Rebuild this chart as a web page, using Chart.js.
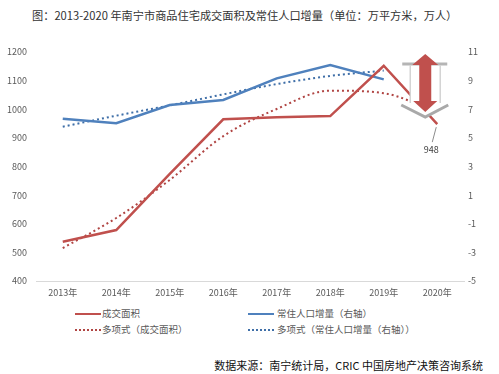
<!DOCTYPE html>
<html>
<head>
<meta charset="utf-8">
<script src="https://cdn.jsdelivr.net/npm/chart.js@4/dist/chart.umd.min.js"></script>
<style>
  html, body { margin: 0; padding: 0; background: #fff; }
  body { width: 499px; height: 374px; position: relative; overflow: hidden;
         font-family: "Noto Sans CJK SC", "Noto Sans", sans-serif; }
  #wrap { position: absolute; left: 0; top: 0; width: 499px; height: 300px; }
  .txt { position: absolute; white-space: nowrap; line-height: 1; }
  #title { left: 32px; top: 10px; font-size: 11.2px; color: #333; }
  #source { right: 16px; top: 360px; font-size: 11px; color: #111; }
  .lg { position: absolute; font-size: 9.5px; color: #595959; line-height: 1; white-space: nowrap; }
  .sw { position: absolute; width: 26px; height: 0; }
</style>
</head>
<body>
<div id="title" class="txt">图：2013-2020 年南宁市商品住宅成交面积及常住人口增量（单位：万平方米，万人）</div>
<div id="wrap"><canvas id="c"></canvas></div>

<div class="sw" style="left:75px;top:313px;border-top:2.5px solid #C0504D;"></div>
<div class="lg" style="left:102px;top:309px;">成交面积</div>
<div class="sw" style="left:248px;top:313px;border-top:2.5px solid #4F81BD;"></div>
<div class="lg" style="left:277px;top:309px;">常住人口增量（右轴）</div>
<div class="sw" style="left:75px;top:329px;border-top:2px dotted #B04543;"></div>
<div class="lg" style="left:102px;top:325px;">多项式（成交面积）</div>
<div class="sw" style="left:248px;top:329px;border-top:2px dotted #3F6FA8;"></div>
<div class="lg" style="left:277px;top:325px;">多项式（常住人口增量（右轴））</div>

<div id="source" class="txt">数据来源：南宁统计局，CRIC 中国房地产决策咨询系统</div>

<script>
// data
var years = ["2013年", "2014年", "2015年", "2016年", "2017年", "2018年", "2019年", "2020年"];
var area = [537, 578, 774, 965, 972, 976, 1152, 948];           // 成交面积 (万平方米)
var popIncrease = [6.34, 6.02, 7.3, 7.65, 9.16, 10.09, 9.09, null]; // 常住人口增量 (万人)
var areaTrend = [515, 620, 753, 906, 1001, 1065, 1056, 990];      // 多项式（成交面积）
var popTrend = [5.78, 6.55, 7.27, 8.04, 8.76, 9.33, 9.7, null];   // 多项式（常住人口增量）
var lastLabel = "948";

var tickFont = { family: "'Noto Sans CJK SC', sans-serif", size: 9 };

// --- arrow + data label drawn on top ---
var extras = {
  id: "extras",
  afterDatasetsDraw: function (chart) {
    var ctx = chart.ctx;
    var xs = chart.scales.x, ys = chart.scales.y;
    var px = xs.getPixelForValue(7), py = ys.getPixelForValue(area[7]);
    var cx = px - 12;

    ctx.save();
    // white backing with grey edges (3d look)
    ctx.fillStyle = "#fff";
    ctx.beginPath();
    ctx.moveTo(cx - 23, 63); ctx.lineTo(cx + 22, 63);
    ctx.lineTo(cx + 15, 63); ctx.lineTo(cx + 15, 104);
    ctx.lineTo(cx + 23, 104); ctx.lineTo(cx, 117); ctx.lineTo(cx - 24, 104);
    ctx.lineTo(cx - 15, 104); ctx.lineTo(cx - 15, 63);
    ctx.closePath();
    ctx.fill();
    ctx.strokeStyle = "#b5b5b5";
    ctx.lineWidth = 3;
    ctx.beginPath();
    ctx.moveTo(cx - 23, 64); ctx.lineTo(cx + 22, 64);
    ctx.stroke();
    ctx.lineWidth = 1.5;
    ctx.strokeStyle = "#d4d4d4";
    ctx.beginPath();
    ctx.moveTo(cx - 15, 65); ctx.lineTo(cx - 15, 103);
    ctx.moveTo(cx + 15, 65); ctx.lineTo(cx + 15, 103);
    ctx.stroke();
    ctx.strokeStyle = "#a9a9a9";
    ctx.lineWidth = 3;
    ctx.beginPath();
    ctx.moveTo(cx - 24, 105); ctx.lineTo(cx, 117); ctx.lineTo(cx + 23, 105);
    ctx.stroke();

    // red double arrow
    ctx.fillStyle = "#C0504D";
    ctx.beginPath();
    ctx.moveTo(cx, 54);
    ctx.lineTo(cx + 13, 65);
    ctx.lineTo(cx + 6, 65);
    ctx.lineTo(cx + 6, 101);
    ctx.lineTo(cx + 12, 101);
    ctx.lineTo(cx, 112);
    ctx.lineTo(cx - 12, 101);
    ctx.lineTo(cx - 6, 101);
    ctx.lineTo(cx - 6, 65);
    ctx.lineTo(cx - 13, 65);
    ctx.closePath();
    ctx.fill();

    // 948 label with leader line
    ctx.strokeStyle = "#8c8c8c";
    ctx.lineWidth = 1;
    ctx.beginPath();
    ctx.moveTo(px - 1, py + 3);
    ctx.lineTo(px - 5, py + 18);
    ctx.stroke();
    ctx.fillStyle = "#404040";
    ctx.font = "9px 'Noto Sans CJK SC', sans-serif";
    ctx.textAlign = "center";
    ctx.textBaseline = "middle";
    ctx.fillText(lastLabel, px - 6, py + 25);
    ctx.restore();
  }
};

function plainTick(v) { return String(v); }

new Chart(document.getElementById("c"), {
  type: "line",
  data: {
    labels: years,
    datasets: [
      { label: "成交面积", data: area, yAxisID: "y",
        borderColor: "#C0504D", borderWidth: 2.5, pointRadius: 0, tension: 0, order: 1 },
      { label: "常住人口增量（右轴）", data: popIncrease, yAxisID: "y1",
        borderColor: "#4F81BD", borderWidth: 2.5, pointRadius: 0, tension: 0, order: 2 },
      { label: "多项式（成交面积）", data: areaTrend, yAxisID: "y",
        borderColor: "#B04543", borderWidth: 2, borderDash: [2, 3], pointRadius: 0,
        cubicInterpolationMode: "monotone", order: 3 },
      { label: "多项式（常住人口增量（右轴））", data: popTrend, yAxisID: "y1",
        borderColor: "#3F6FA8", borderWidth: 2, borderDash: [2, 3], pointRadius: 0,
        cubicInterpolationMode: "monotone", order: 4 }
    ]
  },
  options: {
    responsive: true,
    maintainAspectRatio: false,
    animation: false,
    layout: { padding: { top: 52, left: 0, right: 0, bottom: 0 } },
    plugins: { legend: { display: false }, tooltip: { enabled: false } },
    scales: {
      x: {
        offset: true,
        grid: { display: false, drawTicks: false },
        border: { display: true, color: "#d9d9d9", width: 1 },
        ticks: { color: "#595959", font: tickFont, padding: 6, maxRotation: 0, autoSkip: false },
        afterFit: function (s) { s.height = 19; }
      },
      y: {
        position: "left", min: 400, max: 1200,
        grid: { display: false, drawTicks: false },
        border: { display: false },
        ticks: { stepSize: 100, color: "#595959", font: tickFont, padding: 9, callback: plainTick },
        afterFit: function (s) { s.width = 36; }
      },
      y1: {
        position: "right", min: -5, max: 11,
        grid: { display: false, drawTicks: false },
        border: { display: false },
        ticks: { stepSize: 2, color: "#595959", font: tickFont, padding: 4, callback: plainTick },
        afterFit: function (s) { s.width = 35; }
      }
    }
  },
  plugins: [extras]
});
</script>
</body>
</html>
